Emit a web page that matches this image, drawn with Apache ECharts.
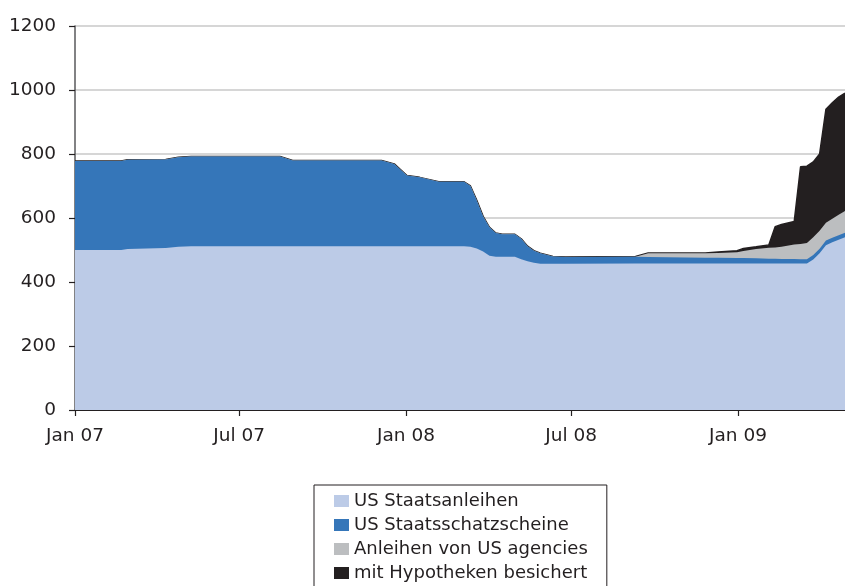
<!DOCTYPE html>
<html>
<head>
<meta charset="utf-8">
<script src="https://cdn.jsdelivr.net/npm/echarts@6/dist/echarts.min.js"></script>
<style>
html,body{margin:0;padding:0;background:#fff;}
#chart{width:845px;height:586px;}
</style>
</head>
<body>
<div id="chart"></div>
<script>
// Dates (weekly observations, irregular key points)
var dates = [
"2007-01-01","2007-02-21","2007-02-28","2007-04-11","2007-04-25","2007-05-09",
"2007-08-15","2007-08-29","2007-12-05","2007-12-19","2008-01-02","2008-01-16",
"2008-02-06","2008-03-05","2008-03-12","2008-03-19","2008-03-26","2008-04-02",
"2008-04-09","2008-04-16","2008-04-30","2008-05-07","2008-05-14","2008-05-21",
"2008-05-28","2008-06-11","2008-06-25","2008-09-10","2008-09-24","2008-11-26",
"2008-12-10","2008-12-31","2009-01-07","2009-01-21","2009-02-04","2009-02-11",
"2009-02-18","2009-03-04","2009-03-11","2009-03-18","2009-03-25","2009-04-01",
"2009-04-08","2009-04-15","2009-04-22","2009-04-29"
];
// US Staatsanleihen
var staatsanleihen = [
500,500,503,506,510,512,
512,512,512,512,512,512,
512,512,510,505,495,482,
479,479,479,471,465,460,
457,457,457,458,458,458,
458,458,458,458,458,458,
458,458,458,458,470,490,
515,524,532,540
];
// US Staatsschatzscheine
var schatzscheine = [
278,278,279,277,280,280,
280,268,268,257,221,215,
201,201,190,150,110,89,
74,70,70,64,47,38,
33,23,21,21,20,18,
18,17,17,16,15,15,
14,14,13,13,14,14,
15,14,14,14
];
// Anleihen von US agencies
var agencies = [
0,0,0,0,0,0,
0,0,0,0,0,0,
0,0,0,0,0,0,
0,0,0,0,0,0,
0,0,0,0,12,14,
15,18,22,29,34,35,
38,45,48,51,56,56,
55,60,64,68
];
// mit Hypotheken besichert
var hypotheken = [
0,0,0,0,0,0,
0,0,0,0,0,0,
0,0,0,0,0,0,
0,0,0,0,0,0,
0,0,0,1,1,1,
3,5,8,7,9,65,
70,72,241,240,235,240,
355,362,368,368
];
var seriesNames = ["US Staatsanleihen","US Staatsschatzscheine","Anleihen von US agencies","mit Hypotheken besichert"];
var tickDates = ["2007-01-01","2007-07-01","2008-01-01","2008-07-01","2009-01-01"];
var tickLabels = ["Jan 07","Jul 07","Jan 08","Jul 08","Jan 09"];
var colors = ["#bccbe7","#3576b9","#bcbec0","#231f20"];

function dayNum(s){
  var p = s.split("-");
  return Math.round((Date.UTC(+p[0], +p[1]-1, +p[2]) - Date.UTC(2007,0,1))/86400000);
}
var xs = dates.map(dayNum);
var tickX = tickDates.map(dayNum);
var labelMap = {};
tickX.forEach(function(v,i){ labelMap[v] = tickLabels[i]; });

var allValues = [staatsanleihen, schatzscheine, agencies, hypotheken];
// cumulative stacking (computed here, drawn on the value axes)
var cum = [];
allValues.forEach(function(arr, i){
  cum.push(arr.map(function(v, j){ return v + (i > 0 ? cum[i-1][j] : 0); }));
});

var font = "'DejaVu Sans', sans-serif";

var series = allValues.map(function(arr, i){
  return {
    name: seriesNames[i],
    type: 'line',
    symbol: 'none',
    color: colors[i],
    data: cum[i].map(function(v, j){ return [xs[j], v]; }),
    lineStyle: i === 3 ? {width: 1.5, color: '#231f20'} : {width: 0, opacity: 0},
    areaStyle: {color: colors[i], opacity: 1, origin: 'start'},
    itemStyle: {color: colors[i]},
    z: 10 - i
  };
});

var chart = echarts.init(document.getElementById('chart'), null, {renderer: 'canvas'});
chart.setOption({
  animation: false,
  backgroundColor: '#ffffff',
  grid: {left: 75, right: 0, top: 26, bottom: 176, containLabel: false},
  xAxis: {
    type: 'value',
    min: 0,
    max: xs[xs.length-1],
    splitLine: {show: false},
    axisLine: {show: true, onZero: false, lineStyle: {color: '#231f20', width: 1.2}},
    axisTick: {show: true, customValues: tickX, length: 6, lineStyle: {color: '#231f20', width: 1.2}},
    axisLabel: {
      customValues: tickX,
      formatter: function(v){ return labelMap[Math.round(v)] || ''; },
      color: '#231f20', fontSize: 18.5, fontFamily: font, margin: 17
    }
  },
  yAxis: {
    type: 'value',
    min: 0, max: 1200, interval: 200,
    axisLine: {show: true, lineStyle: {color: '#58595b', width: 1.5}},
    axisTick: {show: true, length: 6, lineStyle: {color: '#231f20', width: 1.2}},
    axisLabel: {color: '#231f20', fontSize: 18.5, fontFamily: font, margin: 19,
      formatter: function(v){ return String(v); }},
    splitLine: {show: true, lineStyle: {color: '#c8c8c8', width: 1.5}}
  },
  legend: {
    orient: 'vertical',
    left: 314, top: 485,
    height: 130,
    data: seriesNames.map(function(n){ return {name: n, icon: 'rect'}; }),
    itemWidth: 15, itemHeight: 12,
    itemGap: 6,
    padding: [7, 19, 14, 20],
    borderColor: '#231f20', borderWidth: 1,
    textStyle: {color: '#231f20', fontSize: 18, fontFamily: font}
  },
  series: series
});
</script>
</body>
</html>
